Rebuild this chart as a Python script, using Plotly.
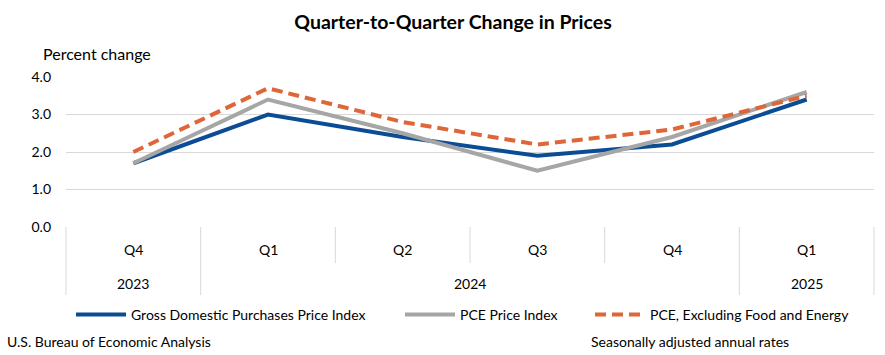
import plotly.graph_objects as go

quarters = ["Q4", "Q1", "Q2", "Q3", "Q4", "Q1"]
years = ["2023", "2024", "2024", "2024", "2024", "2025"]
gdp_purchases = [1.7, 3.0, 2.4, 1.9, 2.2, 3.4]
pce = [1.7, 3.4, 2.5, 1.5, 2.4, 3.6]
pce_core = [2.0, 3.7, 2.8, 2.2, 2.6, 3.5]
y_ticks = [0, 1, 2, 3, 4]

FONT = "Lato"
W, H = 885, 355
L, R, T, B = 66, 11, 77, 128
PW, PH = W - L - R, H - T - B
x_idx = list(range(len(quarters)))


def px_x(p):
    return (p - L) / PW


def px_y(p):
    return (H - B - p) / PH


fig = go.Figure()
fig.add_trace(go.Scatter(x=x_idx, y=gdp_purchases, mode="lines",
                         name="Gross Domestic Purchases Price Index",
                         line=dict(color="#0B4C94", width=4), legend="legend"))
fig.add_trace(go.Scatter(x=x_idx, y=pce, mode="lines",
                         name="PCE Price Index",
                         line=dict(color="#A6A6A6", width=4), legend="legend2"))
fig.add_trace(go.Scatter(x=x_idx, y=pce_core, mode="lines",
                         name="PCE, Excluding Food and Energy",
                         line=dict(color="#DE6638", width=4, dash="11px,6px"),
                         legend="legend3"))

n = len(quarters)

shapes = []
year_bounds = [0]
for i in range(1, n):
    if years[i] != years[i - 1]:
        year_bounds.append(i)
year_bounds.append(n)
for b in range(n + 1):
    full = b in year_bounds
    shapes.append(dict(type="line", xref="paper", yref="paper",
                       x0=b / n, x1=b / n, y0=0,
                       y1=px_y(295 if full else 263),
                       line=dict(color="#D9D9D9", width=1)))

annotations = []
for i, q in enumerate(quarters):
    annotations.append(dict(x=i, xref="x", y=px_y(249), yref="paper", text=q,
                            showarrow=False, font=dict(size=14, color="#000"),
                            xanchor="center", yanchor="middle"))
for k in range(len(year_bounds) - 1):
    a, b = year_bounds[k], year_bounds[k + 1]
    annotations.append(dict(x=(a + b - 1) / 2, xref="x", y=px_y(283), yref="paper",
                            text=years[a], showarrow=False,
                            font=dict(size=14, color="#000"),
                            xanchor="center", yanchor="middle"))
annotations += [
    dict(x=px_x(41), xref="paper", y=px_y(53), yref="paper", text="Percent change",
         showarrow=False, xanchor="left", yanchor="middle",
         font=dict(size=16, color="#000")),
    dict(x=px_x(5), xref="paper", y=px_y(341), yref="paper",
         text="U.S. Bureau of Economic Analysis", showarrow=False,
         xanchor="left", yanchor="middle", font=dict(size=14, color="#000")),
    dict(x=px_x(589), xref="paper", y=px_y(341), yref="paper",
         text="Seasonally adjusted annual rates", showarrow=False,
         xanchor="left", yanchor="middle", font=dict(size=14, color="#000")),
]


def leg(xpix):
    return dict(orientation="h", x=xpix / W, xref="container", xanchor="left",
                y=1 - 315 / H, yref="container", yanchor="middle",
                font=dict(size=14, color="#000"), itemwidth=50,
                bgcolor="rgba(0,0,0,0)", borderwidth=0)


fig.update_layout(
    width=W, height=H,
    margin=dict(l=L, r=R, t=T, b=B, autoexpand=False),
    paper_bgcolor="white", plot_bgcolor="white",
    font=dict(family=FONT, size=14, color="#000"),
    title=dict(text="<b>Quarter-to-Quarter Change in Prices</b>",
               x=453 / W, xanchor="center", y=1 - 22 / H, yanchor="middle",
               font=dict(size=19.5, color="#000", family=FONT)),
    xaxis=dict(range=[-0.5, n - 0.5], showticklabels=False, showgrid=False,
               zeroline=False, showline=False, fixedrange=True),
    yaxis=dict(range=[0, 4], tickvals=y_ticks, tickformat=".1f",
               showgrid=True, gridcolor="#D9D9D9", gridwidth=1,
               zeroline=False, showline=False, ticks="",
               ticklabelstandoff=14, tickfont=dict(size=14, color="#000")),
    legend=leg(71), legend2=leg(400), legend3=leg(590),
    shapes=shapes, annotations=annotations, showlegend=True,
)
fig.write_html("out.html", config={"displayModeBar": False},
               post_script="document.body.style.margin='0';")
